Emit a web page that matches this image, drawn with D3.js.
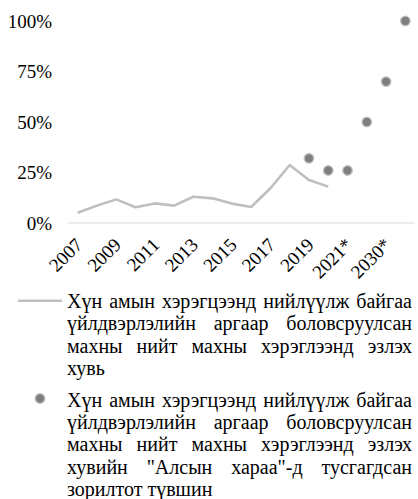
<!DOCTYPE html>
<html>
<head>
<meta charset="utf-8">
<script src="https://cdn.jsdelivr.net/npm/d3@7"></script>
<style>
  html, body { margin: 0; padding: 0; background: #fff; }
  body { width: 418px; height: 499px; position: relative; overflow: hidden; font-family: "Liberation Serif", serif; }
  svg { position: absolute; left: 0; top: 0; }
  .leg { position: absolute; left: 67px; width: 345px; font-size: 20px; line-height: 22.4px; text-align: justify; text-align-last: left; color: #000; font-family: "Liberation Serif", serif; }
  .tk { font-family: "Liberation Serif", serif; font-size: 19px; fill: #000; }
</style>
</head>
<body>
<svg id="chart" width="418" height="499"></svg>
<script>
const categories = ["2007","2008","2009","2010","2011","2012","2013","2014","2015","2016","2017","2018","2019","2020","2021*","2025*","2030*","2050*"];
const actualValues = [0.051, 0.086, 0.117, 0.078, 0.097, 0.086, 0.130, 0.122, 0.096, 0.079, 0.172, 0.287, 0.213, 0.180, null, null, null, null];
const targetValues = [null, null, null, null, null, null, null, null, null, null, null, null, 0.32, 0.26, 0.26, 0.50, 0.70, 1.00];
const yTicks = [0, 0.25, 0.5, 0.75, 1];
const shownLabels = ["2007","2009","2011","2013","2015","2017","2019","2021*","2030*"];
const legendLabels = [
  "Хүн амын хэрэгцээнд нийлүүлж байгаа үйлдвэрлэлийн аргаар боловсруулсан махны нийт махны хэрэглээнд эзлэх хувь",
  "Хүн амын хэрэгцээнд нийлүүлж байгаа үйлдвэрлэлийн аргаар боловсруулсан махны нийт махны хэрэглээнд эзлэх хувийн \"Алсын хараа\"-д тусгагдсан зорилтот түвшин"
];

const svg = d3.select("#chart");
const x = d3.scaleBand().domain(categories).range([68, 415]);
const cx = d => x(d) + x.bandwidth() / 2;
const y = d3.scaleLinear().domain([0, 1]).range([223, 21]);

// y axis labels
const yAxis = d3.axisLeft(y).tickValues(yTicks).tickFormat(d3.format(".0%")).tickSize(0).tickPadding(0);
const gy = svg.append("g").attr("transform", "translate(52,0)").call(yAxis);
gy.attr("font-family", null).attr("font-size", null);
gy.select(".domain").remove();
gy.selectAll("text").attr("class", "tk").attr("fill", null).attr("dy", "0.34em");

// x axis line
svg.append("line").attr("x1", 68).attr("x2", 415).attr("y1", y(0)).attr("y2", y(0))
  .attr("stroke", "#d9d9d9").attr("stroke-width", 1.2);

// x labels
svg.append("g").selectAll("text").data(shownLabels).join("text")
  .attr("class", "tk")
  .attr("text-anchor", "end")
  .attr("transform", d => "translate(" + (cx(d) + 6) + ",246) rotate(-45)")
  .text(d => d);

// line
const lineData = categories.map((c, i) => ({c, v: actualValues[i]})).filter(d => d.v != null);
svg.append("path").datum(lineData)
  .attr("d", d3.line().x(d => cx(d.c)).y(d => y(d.v)))
  .attr("fill", "none").attr("stroke", "#bfbfbf").attr("stroke-width", 2.6).attr("stroke-linejoin", "round");

// dots
const dotData = categories.map((c, i) => ({c, v: targetValues[i]})).filter(d => d.v != null);
svg.append("g").selectAll("circle").data(dotData).join("circle")
  .attr("cx", d => cx(d.c)).attr("cy", d => y(d.v)).attr("r", 4.8)
  .attr("fill", "#7f7f7f").attr("stroke", "#c4c4c4").attr("stroke-width", 1.3);

// legend symbols
svg.append("line").attr("x1", 18).attr("x2", 62).attr("y1", 300.7).attr("y2", 300.7)
  .attr("stroke", "#bfbfbf").attr("stroke-width", 2.6);
svg.append("circle").attr("cx", 40).attr("cy", 398.5).attr("r", 4.8)
  .attr("fill", "#7f7f7f").attr("stroke", "#c4c4c4").attr("stroke-width", 1.3);

// legend text
const tops = [290, 388.5];
d3.select("body").selectAll("div.leg").data(legendLabels).join("div")
  .attr("class", "leg")
  .style("top", (d, i) => tops[i] + "px")
  .text(d => d);
</script>
</body>
</html>
